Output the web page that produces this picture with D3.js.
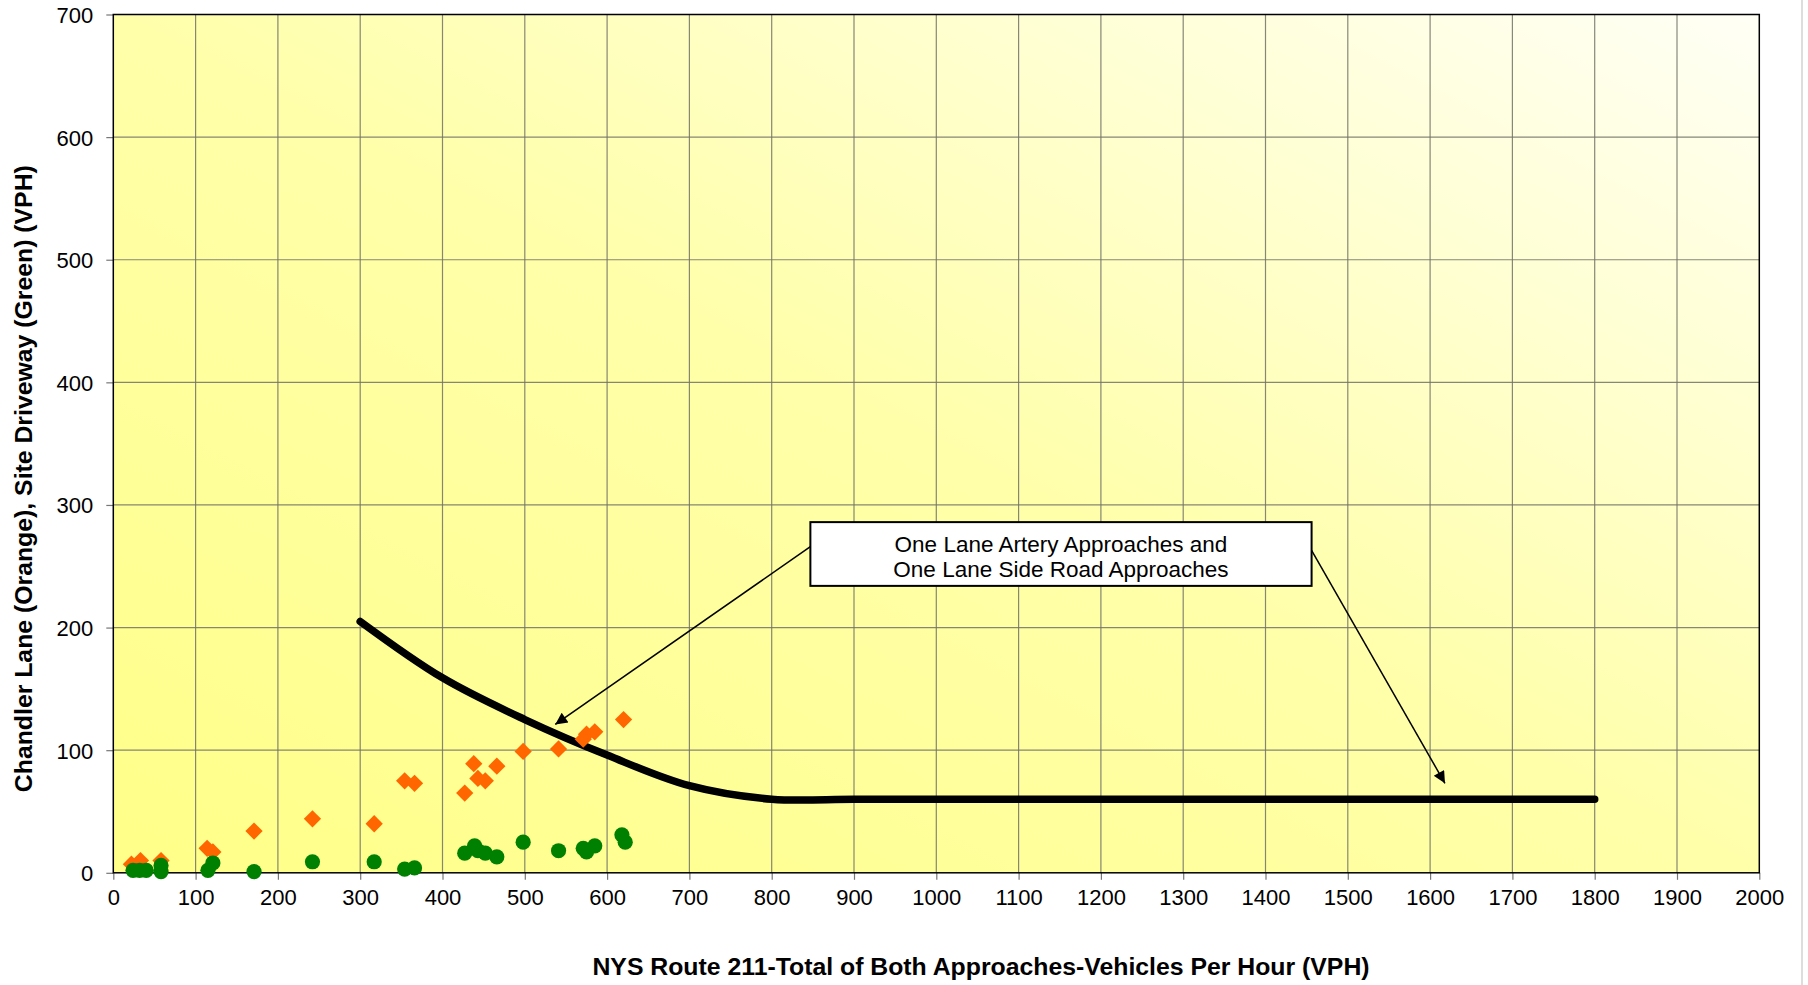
<!DOCTYPE html>
<html>
<head>
<meta charset="utf-8">
<script src="https://cdn.jsdelivr.net/npm/d3@7"></script>
<style>
  html, body { margin: 0; padding: 0; background: #fff; }
  svg { display: block; font-family: "Liberation Sans", Arial, sans-serif; }
</style>
</head>
<body>
<svg id="chart" width="1808" height="985"></svg>
<script>
// ---------- DATA ----------
const orangeX = [22, 33, 58, 114, 121, 171, 242, 317, 354, 366, 427, 438, 443, 452, 466, 498, 541, 571, 575, 585, 620];
const orangeY = [7, 10, 10, 20, 17, 34, 44, 40, 75, 73, 65, 89, 77, 75, 87, 99, 101, 109, 113, 115, 125];

const greenX = [24, 32, 40, 58, 58, 115, 121, 171, 242, 317, 354, 366, 427, 439, 443, 452, 466, 498, 541, 571, 575, 585, 618, 622];
const greenY = [2, 2, 2, 6, 1, 2, 8, 1, 9, 9, 3, 4, 16, 22, 18, 16, 13, 25, 18, 20, 17, 22, 31, 25];

const curveX = [300, 400, 500, 600, 700, 800, 900, 1000, 1100, 1200, 1300, 1400, 1500, 1600, 1700, 1800];
const curveY = [205, 159, 125, 96, 71, 60, 60, 60, 60, 60, 60, 60, 60, 60, 60, 60];

const xTicks = d3.range(0, 2001, 100);
const yTicks = d3.range(0, 701, 100);

const noteLines = ["One Lane Artery Approaches and", "One Lane Side Road Approaches"];
const noteBox = { x0: 847, x1: 1456, y0: 234, y1: 286 };
const arrows = [
  { from: [847, 266], to: [537, 121] },
  { from: [1456, 263], to: [1618, 73] }
];

const xTitle = "NYS Route 211-Total of Both Approaches-Vehicles Per Hour (VPH)";
const yTitle = "Chandler Lane (Orange), Site Driveway (Green) (VPH)";

// ---------- LAYOUT ----------
const FONT = "'Liberation Sans', Arial, sans-serif";
const svg = d3.select("#chart");
const pL = 113.3, pR = 1759.3, pT = 14.5, pB = 872.8;
const x = d3.scaleLinear().domain([0, 2000]).range([pL, pR]);
const y = d3.scaleLinear().domain([0, 700]).range([pB, pT]);

const defs = svg.append("defs");
const grad = defs.append("linearGradient").attr("id", "bg")
  .attr("x1", "0%").attr("y1", "100%").attr("x2", "100%").attr("y2", "0%");
grad.append("stop").attr("offset", "0%").attr("stop-color", "#ffff88");
grad.append("stop").attr("offset", "50%").attr("stop-color", "#ffffaa");
grad.append("stop").attr("offset", "100%").attr("stop-color", "#fffff6");

defs.append("marker").attr("id", "arrowhead")
  .attr("viewBox", "0 0 10 10").attr("refX", 10).attr("refY", 5)
  .attr("markerWidth", 16).attr("markerHeight", 12).attr("markerUnits", "userSpaceOnUse")
  .attr("orient", "auto")
  .append("path").attr("d", "M0,0 L10,5 L0,10 Z").attr("fill", "#000");

// plot background
svg.append("rect").attr("x", pL).attr("y", pT)
  .attr("width", pR - pL).attr("height", pB - pT)
  .attr("fill", "url(#bg)");

// gridlines
svg.append("g").selectAll("line").data(xTicks.filter(d => d > 0 && d < 2000)).join("line")
  .attr("x1", d => x(d)).attr("x2", d => x(d)).attr("y1", pT).attr("y2", pB)
  .attr("stroke", "#737368").attr("stroke-width", 1.2).attr("opacity", 0.85);
svg.append("g").selectAll("line").data(yTicks.filter(d => d > 0 && d < 700)).join("line")
  .attr("y1", d => y(d)).attr("y2", d => y(d)).attr("x1", pL).attr("x2", pR)
  .attr("stroke", "#737368").attr("stroke-width", 1.2).attr("opacity", 0.85);

// axes
const xAxis = d3.axisBottom(x).tickValues(xTicks).tickSize(7).tickPadding(10).tickFormat(d3.format("d"));
const yAxis = d3.axisLeft(y).tickValues(yTicks).tickSize(7).tickPadding(13).tickFormat(d3.format("d"));
const gx = svg.append("g").attr("transform", `translate(0,${pB})`).call(xAxis);
const gy = svg.append("g").attr("transform", `translate(${pL},0)`).call(yAxis);
[gx, gy].forEach(g => {
  g.select(".domain").remove();
  g.selectAll(".tick line").attr("stroke", "#777").attr("stroke-width", 1.2);
  g.selectAll("text").attr("font-size", 22).attr("fill", "#000").attr("font-family", FONT);
});
gy.selectAll("text").attr("dy", "0.36em");

// plot border
svg.append("rect").attr("x", pL).attr("y", pT)
  .attr("width", pR - pL).attr("height", pB - pT)
  .attr("fill", "none").attr("stroke", "#000").attr("stroke-width", 1.5);

// threshold curve
const curveData = curveX.map((d, i) => [d, curveY[i]]);
svg.append("path").datum(curveData)
  .attr("d", d3.line().x(d => x(d[0])).y(d => y(d[1])).curve(d3.curveCatmullRom.alpha(0.5)))
  .attr("fill", "none").attr("stroke", "#000").attr("stroke-width", 7.5)
  .attr("stroke-linecap", "round").attr("stroke-linejoin", "round");

// orange diamonds
const diamond = d3.symbol().type(d3.symbolDiamond2).size(190);
svg.append("g").selectAll("path").data(orangeX.map((d, i) => [d, orangeY[i]])).join("path")
  .attr("transform", d => `translate(${x(d[0])},${y(d[1])})`)
  .attr("d", diamond).attr("fill", "#ff6600");

// green circles
svg.append("g").selectAll("circle").data(greenX.map((d, i) => [d, greenY[i]])).join("circle")
  .attr("cx", d => x(d[0])).attr("cy", d => y(d[1])).attr("r", 7.6)
  .attr("fill", "#008000");

// annotation arrows
svg.append("g").selectAll("line").data(arrows).join("line")
  .attr("x1", d => x(d.from[0])).attr("y1", d => y(d.from[1]))
  .attr("x2", d => x(d.to[0])).attr("y2", d => y(d.to[1]))
  .attr("stroke", "#000").attr("stroke-width", 1.5)
  .attr("marker-end", "url(#arrowhead)");

// annotation box
svg.append("rect")
  .attr("x", x(noteBox.x0)).attr("y", y(noteBox.y1))
  .attr("width", x(noteBox.x1) - x(noteBox.x0)).attr("height", y(noteBox.y0) - y(noteBox.y1))
  .attr("fill", "#fff").attr("stroke", "#000").attr("stroke-width", 2);
const cx = (x(noteBox.x0) + x(noteBox.x1)) / 2;
svg.append("g").selectAll("text").data(noteLines).join("text")
  .attr("x", cx).attr("y", (d, i) => y(noteBox.y1) + 30 + i * 25)
  .attr("text-anchor", "middle").attr("font-size", 22.5).attr("fill", "#000")
  .attr("font-family", FONT)
  .text(d => d);

// axis titles
svg.append("text").attr("x", 981).attr("y", 975)
  .attr("text-anchor", "middle").attr("font-size", 24.8).attr("font-weight", "bold")
  .attr("font-family", FONT)
  .text(xTitle);
svg.append("text")
  .attr("transform", `translate(32,${(pT + pB) / 2 + 35}) rotate(-90)`)
  .attr("text-anchor", "middle").attr("font-size", 24.8).attr("font-weight", "bold")
  .attr("font-family", FONT)
  .text(yTitle);

// faint outer right edge
svg.append("line").attr("x1", 1802).attr("x2", 1802).attr("y1", 0).attr("y2", 985)
  .attr("stroke", "#bbb").attr("stroke-width", 1);
</script>
</body>
</html>
